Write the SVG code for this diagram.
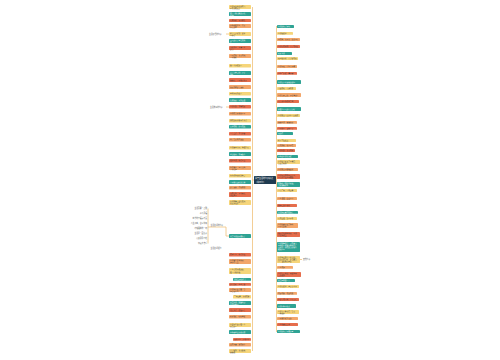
<svg xmlns="http://www.w3.org/2000/svg" width="500" height="360" viewBox="0 0 500 360">
<style>
text{font-family:"Noto Sans CJK SC","Liberation Sans",sans-serif;font-size:1.7px;fill:#333}
.Y rect{fill:#f6d57a}
.T rect{fill:#2ea394}
.T text{fill:#fff}
.R rect{fill:#e66d4c}
.O rect{fill:#f3a66a}
.ln{stroke:#f0c27b;stroke-width:0.8;fill:none}
.lab{fill:#555;font-size:1.8px}
.e{text-anchor:end}
</style>
<rect width="500" height="360" fill="#fff"/>
<g id="connectors">
<path class="ln" d="M252.5,7 V351 M254,180 H252.5 M276,180 H276.5 M276.5,26 V332"/>
<path class="ln" d="M226,34 H229 M226,107 H229 M208,227 H226 V236 H229 M300,259.5 H302 M208,208.5 V243.5"/>
</g>
<g id="center"><rect x="254" y="176" width="22" height="8" rx="0.6" fill="#1f3b50"/><text x="255" y="179.3" style="fill:#fff;font-size:2px">关于生活的句子精选</text><text x="255" y="182.5" style="fill:#fff;font-size:2px">（共89句）</text></g>
<g id="left">
<g class="Y"><rect x="229" y="5" width="22" height="4" rx="0.4"/><text x="230" y="6.8">生活不止眼前的苟且，</text><text x="230" y="8.5">还有诗和远方</text></g>
<g class="T"><rect x="229" y="12" width="22" height="4" rx="0.4"/><text x="230" y="13.8">每一天都是新的开始，</text><text x="230" y="15.5">加油</text></g>
<g class="R"><rect x="229" y="19" width="22" height="3" rx="0.4"/><text x="230" y="21">心若向阳，无畏悲伤</text></g>
<g class="O"><rect x="229" y="24" width="22" height="4" rx="0.4"/><text x="230" y="25.8">愿你出走半生，归来</text><text x="230" y="27.5">仍是少年</text></g>
<g class="Y"><rect x="229" y="32" width="22" height="4" rx="0.4"/><text x="230" y="33.8">把日子过成诗，简单</text><text x="230" y="35.5">而快乐</text></g>
<g class="T"><rect x="229" y="39" width="22" height="4" rx="0.4"/><text x="230" y="40.8">平凡的日子里也有光</text><text x="230" y="42.5">芒</text></g>
<g class="R"><rect x="229" y="46" width="22" height="4" rx="0.4"/><text x="230" y="47.8">温柔半两，从容一生</text><text x="230" y="49.5">岁月</text></g>
<g class="O"><rect x="229" y="54" width="22" height="4" rx="0.4"/><text x="230" y="55.8">人间值得，未来可期，</text><text x="230" y="57.5">一切都好</text></g>
<g class="Y"><rect x="229" y="64" width="22" height="3.5" rx="0.4"/><text x="230" y="66.3">做一个温暖的人</text></g>
<g class="T"><rect x="229" y="71" width="22" height="4" rx="0.4"/><text x="230" y="72.8">日子是自己的，开心</text><text x="230" y="74.5">就好</text></g>
<g class="R"><rect x="229" y="78" width="22" height="4" rx="0.4"/><text x="230" y="80.6">慢慢来，一切都来得及</text></g>
<g class="O"><rect x="229" y="85" width="22" height="4" rx="0.4"/><text x="230" y="87.6">热爱可抵岁月漫长</text></g>
<g class="Y"><rect x="229" y="92" width="22" height="3.5" rx="0.4"/><text x="230" y="94.3">星光不问赶路人</text></g>
<g class="T"><rect x="229" y="98" width="22" height="4" rx="0.4"/><text x="230" y="100.6">保持热爱，奔赴山海</text></g>
<g class="R"><rect x="229" y="105" width="22" height="3.5" rx="0.4"/><text x="230" y="107.3">生活明朗，万物可爱</text></g>
<g class="O"><rect x="229" y="112" width="22" height="3.5" rx="0.4"/><text x="230" y="114.3">愿所有美好如期而至</text></g>
<g class="Y"><rect x="229" y="119" width="22" height="3.5" rx="0.4"/><text x="230" y="121.3">所有的努力都不会白费</text></g>
<g class="T"><rect x="229" y="125" width="22" height="3.5" rx="0.4"/><text x="230" y="127.3">心中有光，脚下有路</text></g>
<g class="R"><rect x="229" y="132" width="22" height="3.5" rx="0.4"/><text x="230" y="134.3">平安喜乐，万事胜意</text></g>
<g class="O"><rect x="229" y="138" width="22" height="3.5" rx="0.4"/><text x="230" y="140.3">今天也要元气满满</text></g>
<g class="Y"><rect x="229" y="146" width="22" height="3.5" rx="0.4"/><text x="230" y="148.3">生活原本沉闷，但跑起来</text></g>
<g class="T"><rect x="229" y="152" width="22" height="4" rx="0.4"/><text x="230" y="154.6">世界很大，幸福很小</text></g>
<g class="R"><rect x="229" y="159" width="22" height="3.5" rx="0.4"/><text x="230" y="161.3">简单生活，快乐至上</text></g>
<g class="O"><rect x="229" y="166" width="22" height="4" rx="0.4"/><text x="230" y="167.8">往后余生，风雪是你，</text><text x="230" y="169.5">平淡是你</text></g>
<g class="Y"><rect x="229" y="174" width="22" height="3.5" rx="0.4"/><text x="230" y="176.3">努力成为更好的自己</text></g>
<g class="T"><rect x="229" y="180" width="22" height="4" rx="0.4"/><text x="230" y="182.6">一切都是最好的安排</text></g>
<g class="O"><rect x="229" y="186" width="22" height="3.5" rx="0.4"/><text x="230" y="188.3">岁月漫长，值得等待</text></g>
<g class="R"><rect x="229" y="192" width="22" height="5" rx="0.4"/><text x="230" y="194.1">不念过往，不畏将来，</text><text x="230" y="196.1">活在当下</text></g>
<g class="Y"><rect x="229" y="200" width="22" height="5" rx="0.4"/><text x="230" y="202.1">生活就像一盒巧克力，</text><text x="230" y="204.1">永远不知道</text></g>
<g class="T"><rect x="229" y="234" width="22" height="4" rx="0.4"/><text x="230" y="236.6">关于生活的经典句子</text></g>
<g class="R"><rect x="229" y="253" width="22" height="3.5" rx="0.4"/><text x="230" y="255.3">笑对人生，快乐常在</text></g>
<g class="O"><rect x="229" y="259" width="22" height="5" rx="0.4"/><text x="230" y="261.1">生活总会给你答案，</text><text x="230" y="263.1">但不会马上</text></g>
<g class="Y"><rect x="229" y="268" width="22" height="6" rx="0.4"/><text x="230" y="270.4">人生没有白走的路，</text><text x="230" y="272.8">每一步都算数</text></g>
<g class="T"><rect x="233" y="278" width="18" height="2.8" rx="0.4"/><text x="234" y="279.9">活成喜欢的样子</text></g>
<g class="R"><rect x="229" y="283" width="22" height="2.8" rx="0.4"/><text x="230" y="284.9">岁月静好，现世安稳</text></g>
<g class="O"><rect x="229" y="288" width="22" height="4" rx="0.4"/><text x="230" y="289.8">生活需要仪式感，也</text><text x="230" y="291.5">需要烟火气</text></g>
<g class="Y"><rect x="233" y="295" width="18" height="3.5" rx="0.4"/><text x="234" y="297.3">三餐四季，温柔有趣</text></g>
<g class="T"><rect x="229" y="301" width="22" height="4" rx="0.4"/><text x="230" y="302.8">认真生活，就能找到</text><text x="230" y="304.5">生活的意义</text></g>
<g class="R"><rect x="229" y="308" width="22" height="4" rx="0.4"/><text x="230" y="310.6">知足常乐，随遇而安</text></g>
<g class="O"><rect x="229" y="315" width="22" height="3.5" rx="0.4"/><text x="230" y="317.3">好好吃饭，好好睡觉</text></g>
<g class="Y"><rect x="229" y="323" width="22" height="4" rx="0.4"/><text x="230" y="324.8">生活不会辜负每一个</text><text x="230" y="326.5">认真的人</text></g>
<g class="T"><rect x="229" y="330" width="22" height="4" rx="0.4"/><text x="230" y="332.6">愿你被世界温柔以待</text></g>
<g class="R"><rect x="233" y="338" width="18" height="2.8" rx="0.4"/><text x="234" y="339.9">向阳而生，逐光而行</text></g>
<g class="O"><rect x="229" y="343" width="22" height="3.5" rx="0.4"/><text x="230" y="345.3">山有顶峰，湖有彼岸</text></g>
<g class="Y"><rect x="229" y="349" width="22" height="4" rx="0.4"/><text x="230" y="350.8">日子很甜，未来很长，</text><text x="230" y="352.5">慢慢走</text></g>
</g>
<g id="labels">
<text class="lab" x="209" y="34.6">生活感悟的句子</text>
<text class="lab" x="210" y="107.6">生活美好的句子</text>
<text class="lab" x="210.5" y="226.4">生活哲理的句子</text>
<text class="lab e" x="207" y="209.1">生活需要一点甜</text>
<text class="lab e" x="207" y="214.1">平凡是福</text>
<text class="lab e" x="207" y="219.1">简单的幸福最珍贵</text>
<text class="lab e" x="207" y="224.1">人生如茶，苦尽甘来</text>
<text class="lab e" x="207" y="229.1">珍惜眼前的一切</text>
<text class="lab e" x="207" y="234.1">生活是一面镜子</text>
<text class="lab e" x="207" y="239.1">心安即是归处</text>
<text class="lab e" x="207" y="244.1">知足者常乐</text>
<text class="lab" x="210.5" y="248.6">生活哲理短句</text>
<text class="lab" x="303" y="260.2">其他句子</text>
</g>
<g id="right">
<g class="T"><rect x="277" y="25" width="17" height="3" rx="0.4"/><text x="278" y="27">生活的句子短句</text></g>
<g class="Y"><rect x="277" y="32" width="16" height="2.8" rx="0.4"/><text x="278" y="33.9">生活很简单</text></g>
<g class="O"><rect x="277" y="38" width="23" height="3" rx="0.4"/><text x="278" y="40">风有约，花不误，岁岁不负</text></g>
<g class="R"><rect x="277" y="45" width="23" height="3" rx="0.4"/><text x="278" y="47">生活要有期待，日子有盼头</text></g>
<g class="T"><rect x="277" y="52" width="15" height="3" rx="0.4"/><text x="278" y="54">好好生活</text></g>
<g class="Y"><rect x="277" y="57" width="21" height="3" rx="0.4"/><text x="278" y="59">晚风很温柔，日子很可爱</text></g>
<g class="O"><rect x="277" y="65" width="20" height="3" rx="0.4"/><text x="278" y="67">生活不易，且行且珍惜</text></g>
<g class="R"><rect x="277" y="72" width="20" height="2.8" rx="0.4"/><text x="278" y="73.9">愿你三冬暖，春不寒</text></g>
<g class="T"><rect x="277" y="80" width="24" height="4" rx="0.4"/><text x="278" y="82.6">生活是一场漫长的修行</text></g>
<g class="Y"><rect x="277" y="87" width="19" height="3" rx="0.4"/><text x="278" y="89">日出有盼，日落有念</text></g>
<g class="O"><rect x="277" y="93" width="24" height="4" rx="0.4"/><text x="278" y="95.6">生活是自己的，不必像别人</text></g>
<g class="R"><rect x="277" y="100" width="22" height="3" rx="0.4"/><text x="278" y="102">凡事发生皆有利于我</text></g>
<g class="T"><rect x="277" y="107" width="24" height="4" rx="0.4"/><text x="278" y="109.6">把每个平凡的日子过好</text></g>
<g class="Y"><rect x="277" y="114" width="23" height="3" rx="0.4"/><text x="278" y="116">生活就是一边失去一边拥有</text></g>
<g class="O"><rect x="277" y="121" width="20" height="2.8" rx="0.4"/><text x="278" y="122.9">慢慢生活，慢慢热爱</text></g>
<g class="R"><rect x="277" y="127" width="20" height="2.8" rx="0.4"/><text x="278" y="128.9">人间烟火，最抚人心</text></g>
<g class="T"><rect x="277" y="132" width="16" height="3" rx="0.4"/><text x="278" y="134">向前看</text></g>
<g class="Y"><rect x="277" y="139" width="19" height="3" rx="0.4"/><text x="278" y="141">好运正在路上</text></g>
<g class="O"><rect x="277" y="144" width="19" height="3" rx="0.4"/><text x="278" y="146">心有所期，忙而不茫</text></g>
<g class="R"><rect x="277" y="149" width="18" height="3" rx="0.4"/><text x="278" y="151">生活明朗，未来可期</text></g>
<g class="T"><rect x="277" y="155" width="21" height="3" rx="0.4"/><text x="278" y="157">愿你的生活常温暖</text></g>
<g class="Y"><rect x="277" y="160" width="23" height="4" rx="0.4"/><text x="278" y="161.8">生活的美好在于不确定，</text><text x="278" y="163.5">也在于期待</text></g>
<g class="O"><rect x="277" y="168" width="21" height="3" rx="0.4"/><text x="278" y="170">生活就是不断地出发</text></g>
<g class="R"><rect x="277" y="174" width="23" height="5" rx="0.4"/><text x="278" y="176.1">生活不是等待风暴过去，</text><text x="278" y="178.1">而是学会在雨中跳舞</text></g>
<g class="T"><rect x="277" y="182" width="23" height="5" rx="0.4"/><text x="278" y="184.1">有趣的灵魂终会相遇，</text><text x="278" y="186.1">美好即将发生</text></g>
<g class="Y"><rect x="277" y="189" width="20" height="3" rx="0.4"/><text x="278" y="191">一日三餐，一年四季</text></g>
<g class="O"><rect x="277" y="197" width="20" height="3" rx="0.4"/><text x="278" y="199">人生海海，山山而川</text></g>
<g class="R"><rect x="277" y="204" width="20" height="3" rx="0.4"/><text x="278" y="206">做自己的小太阳</text></g>
<g class="T"><rect x="277" y="211" width="21" height="2.8" rx="0.4"/><text x="278" y="212.9">生活需要勇气和热情</text></g>
<g class="Y"><rect x="277" y="217" width="20" height="3" rx="0.4"/><text x="278" y="219">心有山海，静而不争</text></g>
<g class="O"><rect x="277" y="223" width="21" height="5" rx="0.4"/><text x="278" y="225.1">生活的意义在于体验，</text><text x="278" y="227.1">而不是结果</text></g>
<g class="R"><rect x="277" y="232" width="23" height="5" rx="0.4"/><text x="278" y="234.1">时间会告诉你答案，生活</text><text x="278" y="236.1">会给你惊喜</text></g>
<g class="T"><rect x="277" y="242" width="23" height="10" rx="0.4"/><text x="278" y="244.1">生活就像海洋，只有意志</text><text x="278" y="246.1">坚强的人才能到达彼岸；</text><text x="278" y="248.1">要相信，所有的美好都会</text><text x="278" y="250.1">如期而至</text></g>
<g class="Y"><rect x="277" y="256" width="23" height="7" rx="0.4"/><text x="278" y="258.1">生活本来就是一场恶战，</text><text x="278" y="260.1">给止疼药也好，给巴掌也</text><text x="278" y="262.1">罢，最终都要痊愈</text></g>
<g class="O"><rect x="277" y="266" width="16" height="2.8" rx="0.4"/><text x="278" y="267.9">人生苦短</text></g>
<g class="R"><rect x="277" y="272" width="24" height="5" rx="0.4"/><text x="278" y="274.1">生活是一首歌，唱出你自</text><text x="278" y="276.1">己的旋律</text></g>
<g class="T"><rect x="277" y="279" width="18" height="3" rx="0.4"/><text x="278" y="281">认真对待每一天</text></g>
<g class="Y"><rect x="277" y="285" width="22" height="3" rx="0.4"/><text x="278" y="287">生活要简单，内心要丰盈</text></g>
<g class="O"><rect x="277" y="292" width="20" height="2.8" rx="0.4"/><text x="278" y="293.9">有梦可做，有路可走</text></g>
<g class="R"><rect x="277" y="298" width="22" height="3" rx="0.4"/><text x="278" y="300">愿岁月可回首，且以深情</text></g>
<g class="T"><rect x="277" y="304" width="19" height="4" rx="0.4"/><text x="278" y="306.6">生活因你而精彩</text></g>
<g class="Y"><rect x="277" y="310" width="22" height="4" rx="0.4"/><text x="278" y="311.8">生活是一种态度，也是</text><text x="278" y="313.5">一种选择</text></g>
<g class="O"><rect x="277" y="317" width="21" height="3" rx="0.4"/><text x="278" y="319">一切都会好起来的</text></g>
<g class="R"><rect x="277" y="323" width="21" height="3" rx="0.4"/><text x="278" y="325">人生得意须尽欢</text></g>
<g class="T"><rect x="277" y="330" width="23" height="3" rx="0.4"/><text x="278" y="332">生活的句子经典语录</text></g>
</g>
</svg>
